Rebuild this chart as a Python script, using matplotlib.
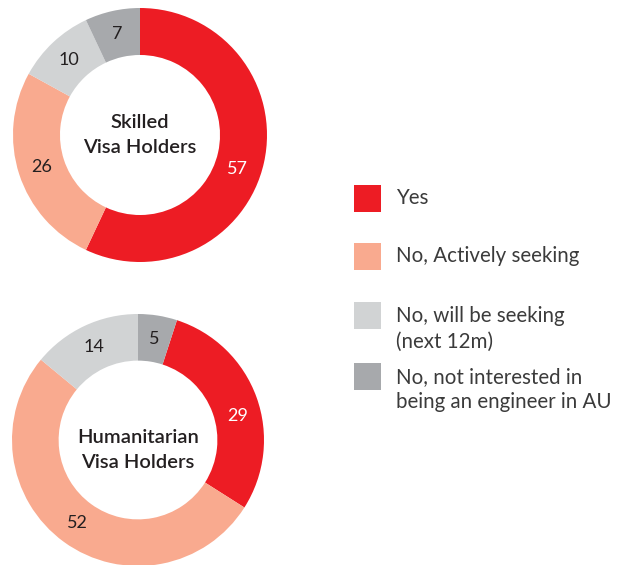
import numpy as np
import matplotlib
matplotlib.use('Agg')
import matplotlib.pyplot as plt
from matplotlib.patches import Rectangle

plt.rcParams['font.family'] = ['Lato', 'DejaVu Sans']

#%% datos
categorias = ['Yes', 'No, Actively seeking', 'No, will be seeking\n(next 12m)',
              'No, not interested in\nbeing an engineer in AU']
colores = ['#ED1C24', '#F9AA8F', '#D1D3D4', '#A7A9AC']
skilled = [57, 26, 10, 7]
humanitarian = [29, 52, 14, 5]
titulos = ['Skilled\nVisa Holders', 'Humanitarian\nVisa Holders']

W, H = 625, 565
fig = plt.figure(figsize=(W/100, H/100), dpi=100)

def dona(cx, cy, r, valores, titulo, start, dy_tit=0.0):
    # cx, cy en pixeles desde arriba a la izquierda
    ax = fig.add_axes([(cx-r)/W, (H-cy-r)/H, 2*r/W, 2*r/H])
    wedges, _ = ax.pie(valores, colors=colores, startangle=start, counterclock=False,
                       radius=1, wedgeprops=dict(width=0.37, linewidth=0))
    for i, w in enumerate(wedges):
        ang = (w.theta1 + w.theta2)/2
        if i == 0:
            ang -= 6.5  # la etiqueta roja esta corrida un poco para abajo
        ang = np.deg2rad(ang)
        rr = 0.815
        col = 'white' if i == 0 else '#231F20'
        ax.text(rr*np.cos(ang), rr*np.sin(ang), str(valores[i]), ha='center', va='center',
                fontsize=13, color=col)
    ax.text(0, dy_tit, titulo, ha='center', va='center', fontsize=14.5, fontweight='semibold',
            color='#231F20', linespacing=1.55)
    ax.set_xlim(-1, 1)
    ax.set_ylim(-1, 1)
    ax.set_aspect('equal')
    ax.axis('off')

dona(140, 135, 127, skilled, titulos[0], 90)
# abajo: el ultimo valor (5) arranca en el tope
dona(138, 440, 126, humanitarian, titulos[1], 90 - 360*humanitarian[-1]/sum(humanitarian), -0.08)

#%% leyenda
lax = fig.add_axes([0, 0, 1, 1])
lax.set_xlim(0, W)
lax.set_ylim(H, 0)
lax.axis('off')
ys = [185, 243, 302, 363]
gap = 26  # px entre renglones
for i, c in enumerate(categorias):
    lax.add_patch(Rectangle((354, ys[i]), 27, 27, color=colores[i], lw=0))
    n = c.count('\n')
    # baseline queda en el ultimo renglon
    lax.text(396, ys[i] + 19.5 + gap*n, c, ha='left', va='baseline', fontsize=14.8,
             color='#3B3B3B', linespacing=1.35)

fig.savefig('out.png', dpi=100)
